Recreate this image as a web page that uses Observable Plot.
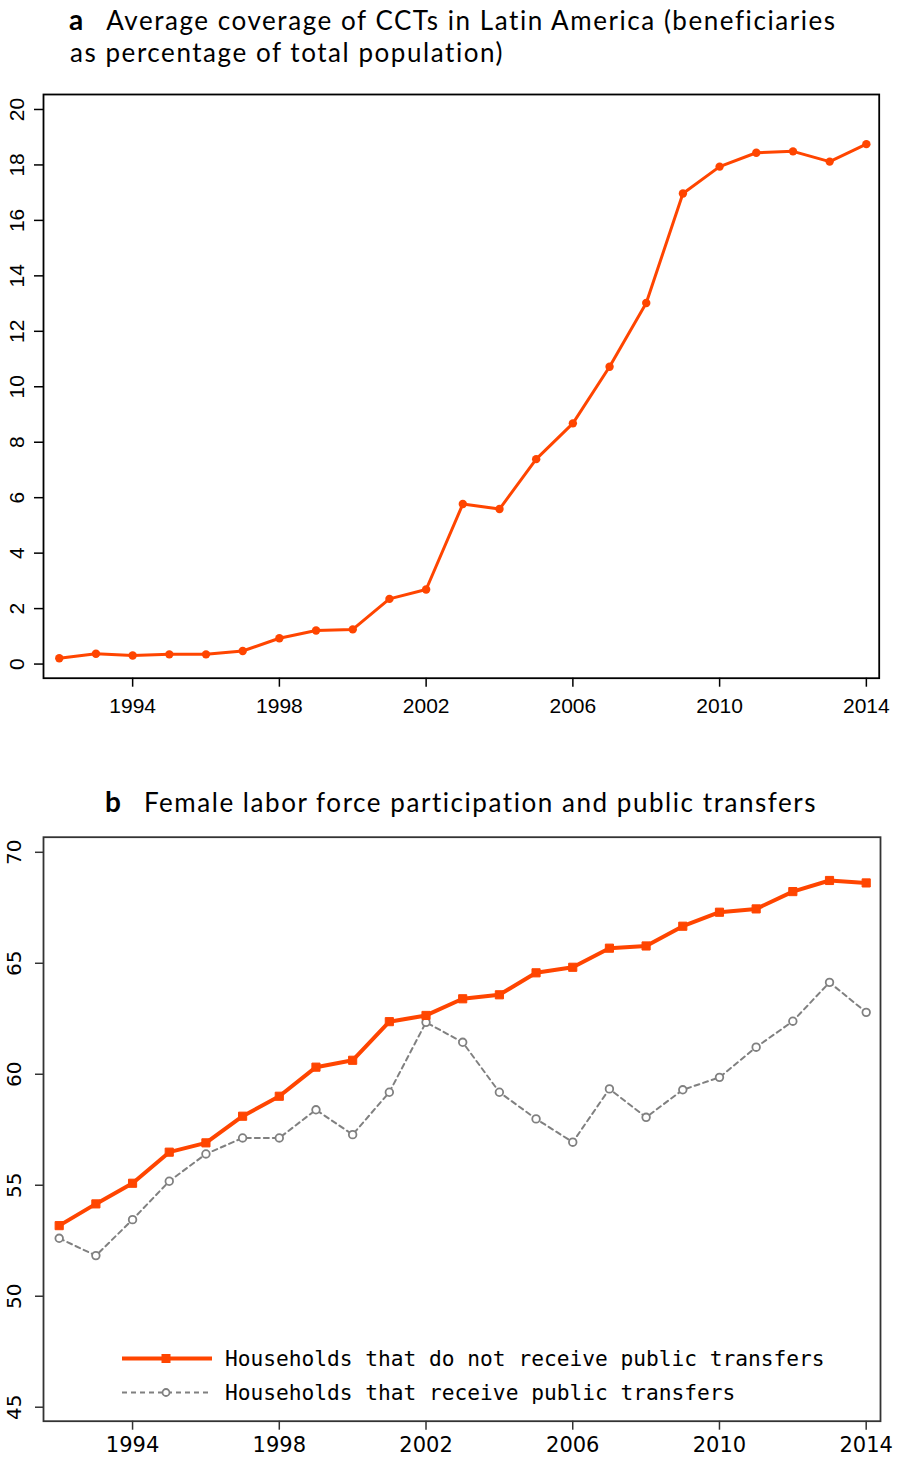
<!DOCTYPE html>
<html>
<head>
<meta charset="utf-8">
<script src="https://cdn.jsdelivr.net/npm/d3@7"></script>
<script src="https://cdn.jsdelivr.net/npm/@observablehq/plot@0.6"></script>
<style>
  html, body { margin: 0; padding: 0; background: #fff; }
  #root { position: relative; width: 898px; height: 1458px; overflow: hidden; background: #fff; }
  .title { position: absolute; white-space: nowrap; font-family: Lato, "Open Sans", sans-serif; font-size: 26px; line-height: 32px; color: #000; letter-spacing: 1.55px; }
  .title b { font-size: 28px; font-weight: 700; margin-right: 23px; letter-spacing: 0; }
  .panel { position: absolute; left: 0; }
  .leg { position: absolute; white-space: nowrap; font-family: "DejaVu Sans Mono", monospace; font-size: 21.2px; line-height: 24px; color: #000; }
  .legsw { position: absolute; }
</style>
</head>
<body>
<div id="root">
  <div class="title" style="left:69px; top:2.5px;"><b>a</b>Average coverage of CCTs in Latin America (beneficiaries<br><span style="margin-left:1px">as percentage of total population)</span></div>
  <div id="panelA" class="panel" style="top:80px;"></div>
  <div class="title" style="left:105px; top:785px;"><b>b</b>Female labor force participation and public transfers</div>
  <div id="panelB" class="panel" style="top:820px;"></div>
  <svg class="legsw" style="left:118px; top:1348px;" width="100" height="54">
    <line x1="4" y1="10.5" x2="94" y2="10.5" stroke="#FF4500" stroke-width="4"/>
    <rect x="43.5" y="6" width="9" height="9" fill="#FF4500"/>
    <line x1="4" y1="44.5" x2="94" y2="44.5" stroke="#808080" stroke-width="2" stroke-dasharray="5,4"/>
    <circle cx="48" cy="44.5" r="3.5" fill="#fff" stroke="#808080" stroke-width="1.8"/>
  </svg>
  <div class="leg" style="left:225px; top:1347px;">Households that do not receive public transfers</div>
  <div class="leg" style="left:225px; top:1381px;">Households that receive public transfers</div>
</div>
<script>
// ---- Data ----
const years = [1992, 1993, 1994, 1995, 1996, 1997, 1998, 1999, 2000, 2001, 2002, 2003,
               2004, 2005, 2006, 2007, 2008, 2009, 2010, 2011, 2012, 2013, 2014];

// Panel a: average coverage of CCTs (% of total population)
const coverage = [0.21, 0.37, 0.31, 0.35, 0.35, 0.47, 0.93, 1.21, 1.25, 2.35, 2.69, 5.77,
                  5.59, 7.39, 8.68, 10.72, 13.02, 16.97, 17.94, 18.44, 18.49, 18.12, 18.75];

// Panel b: female labor force participation
const noTransfers = [53.18, 54.16, 55.09, 56.49, 56.91, 58.11, 59.01, 60.32, 60.63, 62.37, 62.65, 63.40,
                     63.58, 64.57, 64.82, 65.68, 65.78, 66.67, 67.30, 67.45, 68.23, 68.73, 68.62];
const withTransfers = [52.61, 51.83, 53.45, 55.18, 56.41, 57.13, 57.13, 58.40, 57.28, 59.19, 62.34, 61.44,
                       59.19, 57.99, 56.94, 59.34, 58.06, 59.30, 59.86, 61.22, 62.39, 64.14, 62.79];

const xTicks = [1994, 1998, 2002, 2006, 2010, 2014];
const yTicksA = [0, 2, 4, 6, 8, 10, 12, 14, 16, 18, 20];
const yTicksB = [45, 50, 55, 60, 65, 70];

const ORANGE = "#FF4500";
const GRAY = "#808080";

const dataA = years.map((year, i) => ({year, value: coverage[i]}));
const dataB1 = years.map((year, i) => ({year, value: noTransfers[i]}));
const dataB2 = years.map((year, i) => ({year, value: withTransfers[i]}));

// ---- Panel a ----
const chartA = Plot.plot({
  width: 898,
  height: 660,
  marginLeft: 43,
  marginRight: 19.3,
  marginTop: 14,
  marginBottom: 62.3,
  style: {fontFamily: "'Liberation Sans', Arial, sans-serif", fontSize: "21px", color: "#000", background: "transparent"},
  x: {domain: [1991.57, 2014.35]},
  y: {domain: [-0.51, 20.54]},
  marks: [
    Plot.axisX({ticks: xTicks, tickSize: 9, tickPadding: 11, tickFormat: d => String(d), fontSize: 21, strokeWidth: 1.5, label: null}),
    Plot.axisY({ticks: yTicksA, tickSize: 9, tickPadding: 11, tickRotate: -90, tickFormat: d => String(d), fontSize: 21, strokeWidth: 1.5, label: null}),
    Plot.frame({stroke: "#000", strokeWidth: 1.8}),
    Plot.line(dataA, {x: "year", y: "value", stroke: ORANGE, strokeWidth: 3}),
    Plot.dot(dataA, {x: "year", y: "value", fill: ORANGE, r: 4.2, symbol: "circle"})
  ]
});
document.getElementById("panelA").appendChild(chartA);

// ---- Panel b ----
const chartB = Plot.plot({
  width: 898,
  height: 638,
  marginLeft: 43,
  marginRight: 18,
  marginTop: 16.7,
  marginBottom: 37.3,
  style: {fontFamily: "'DejaVu Sans', Verdana, sans-serif", fontSize: "20px", color: "#000", background: "transparent"},
  x: {domain: [1991.572, 2014.39]},
  y: {domain: [44.37, 70.68]},
  marks: [
    Plot.axisX({ticks: xTicks, tickSize: 9, tickPadding: 7, tickFormat: d => String(d), fontSize: 21, stroke: "#333", strokeWidth: 1.5, label: null}),
    Plot.axisY({ticks: yTicksB, tickSize: 8, tickPadding: 15, tickRotate: -90, tickFormat: d => String(d), fontSize: 20, stroke: "#333", strokeWidth: 1.5, label: null}),
    Plot.frame({stroke: "#333", strokeWidth: 1.8}),
    Plot.line(dataB2, {x: "year", y: "value", stroke: GRAY, strokeWidth: 2, strokeDasharray: "5,4"}),
    Plot.dot(dataB2, {x: "year", y: "value", fill: "#fff", stroke: GRAY, strokeWidth: 1.8, r: 3.8, symbol: "circle"}),
    Plot.line(dataB1, {x: "year", y: "value", stroke: ORANGE, strokeWidth: 4}),
    Plot.dot(dataB1, {x: "year", y: "value", fill: ORANGE, stroke: ORANGE, strokeWidth: 1, r: 4.6, symbol: "square"})
  ]
});
document.getElementById("panelB").appendChild(chartB);
</script>
</body>
</html>
